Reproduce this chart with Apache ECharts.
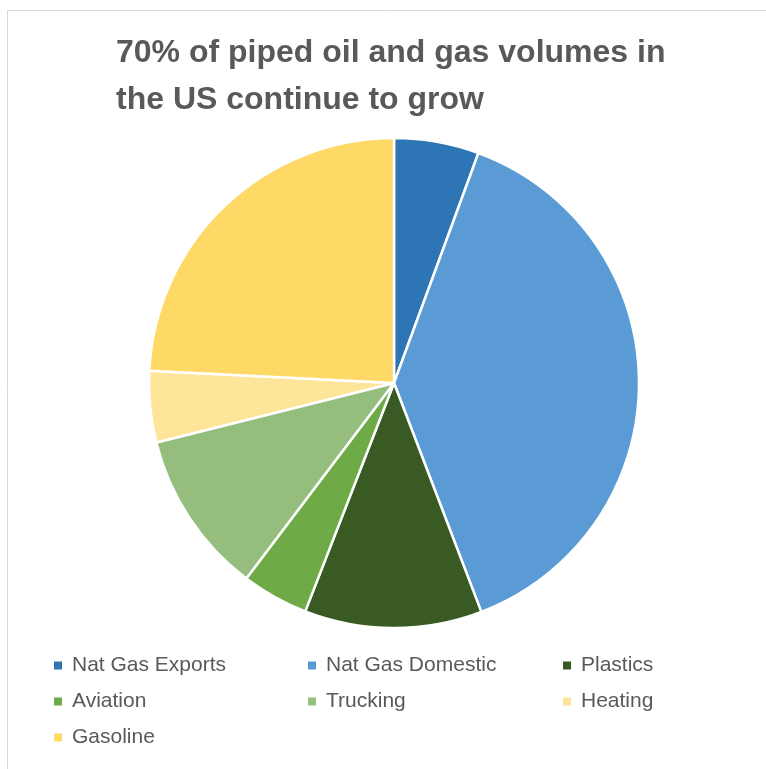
<!DOCTYPE html>
<html>
<head>
<meta charset="utf-8">
<script src="https://cdn.jsdelivr.net/npm/echarts@6/dist/echarts.min.js"></script>
<style>
html,body{margin:0;padding:0;background:#fff;}
#chart{width:766px;height:769px;}
</style>
</head>
<body>
<div id="chart"></div>
<script>
const titleLines = ['70% of piped oil and gas volumes in', 'the US continue to grow'];
const categories = ['Nat Gas Exports', 'Nat Gas Domestic', 'Plastics', 'Aviation', 'Trucking', 'Heating', 'Gasoline'];
const values = [5.6, 38.6, 11.7, 4.4, 10.8, 4.7, 24.2];
const colors = ['#2E75B6', '#5B9BD5', '#3A5A23', '#6EAA45', '#95BE7E', '#FFE599', '#FFD966'];

const chart = echarts.init(document.getElementById('chart'), null, {renderer: 'canvas'});

const legendPos = [
  [52, 655], [306, 655], [561, 655],
  [52, 691], [306, 691], [561, 691],
  [52, 727]
];

const legends = categories.map((name, i) => ({
  data: [name],
  left: legendPos[i][0],
  top: legendPos[i][1],
  padding: 0,
  icon: 'rect',
  itemWidth: 10,
  itemHeight: 10,
  selectedMode: false,
  textStyle: {
    fontFamily: 'Liberation Sans',
    fontSize: 21,
    color: '#595959',
    padding: [0, 0, 0, 4]
  }
}));

chart.setOption({
  backgroundColor: '#ffffff',
  animation: false,
  title: {
    text: titleLines.join('\n'),
    left: 116,
    top: 30,
    padding: 0,
    textStyle: {
      fontFamily: 'Liberation Sans',
      fontWeight: 'bold',
      fontSize: 32,
      lineHeight: 47,
      color: '#595959'
    }
  },
  graphic: [{
    type: 'rect',
    shape: {x: 7.5, y: 10.5, width: 900, height: 900},
    style: {fill: 'none', stroke: '#d9d9d9', lineWidth: 1},
    silent: true
  }],
  legend: legends,
  color: colors,
  series: [{
    type: 'pie',
    center: [394, 383],
    radius: 245,
    startAngle: 90,
    clockwise: true,
    label: {show: false},
    labelLine: {show: false},
    itemStyle: {borderColor: '#ffffff', borderWidth: 2.5},
    emphasis: {disabled: true},
    data: categories.map((name, i) => ({name: name, value: values[i]}))
  }]
});
</script>
</body>
</html>
